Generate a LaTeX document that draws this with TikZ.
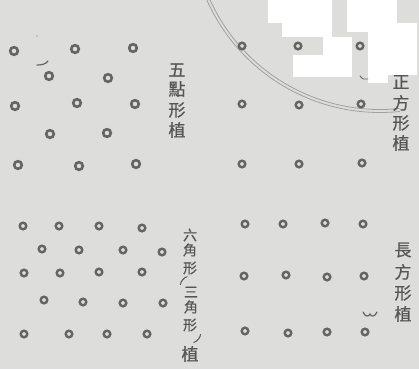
\documentclass[tikz,border=0pt]{standalone}
\usepackage{fontspec}
\newfontfamily\cjk[FakeBold=0.6]{Noto Sans CJK TC}
\definecolor{paper}{RGB}{221,221,219}
\definecolor{ink}{RGB}{100,100,98}
\definecolor{textink}{RGB}{85,85,83}
\definecolor{arcink}{RGB}{160,160,158}
\begin{document}
\begin{tikzpicture}[x=1pt,y=-1pt,
  plant/.style={circle,draw=ink,line width=2.4pt,minimum size=6.6pt,inner sep=0pt},
  bigplant/.style={plant,line width=2.6pt,minimum size=7.6pt},
  lbl/.style={text=textink,font=\cjk\fontsize{17}{17}\selectfont,inner sep=0pt},
  smalllbl/.style={text=textink,font=\cjk\fontsize{14}{14}\selectfont,inner sep=0pt},
  parlbl/.style={text=textink,font=\cjk\fontsize{11}{11}\selectfont,inner sep=0pt},
  stray/.style={draw=ink,line width=1.2pt,line cap=round}]
\fill[paper] (0,0) rectangle (419,369);
\useasboundingbox (0,0) rectangle (419,369);
% stamp arc (double line)
\draw[arcink,line width=0.8pt] (380,-77) ++(156:186.5) arc[start angle=156,end angle=84,radius=186.5];
\draw[arcink,line width=0.8pt] (380,-77) ++(156:189.5) arc[start angle=156,end angle=84,radius=189.5];
% top-left: quincunx
\foreach \x/\y [count=\i] in {14/51,75/49,133/48,49/76,108/78,15/106,77/103,135/104,50/134,107/133,18/165,79/166,136/164}
  \node[bigplant] (q\i) at (\x,\y) {};
% top-right: square
\foreach \x/\y [count=\i] in {242/46,298/46,360/46,242/104,299/105,361/104,242/164,299/164,362/163}
  \node[plant] (s\i) at (\x,\y) {};
% bottom-left: hexagonal
\foreach \x/\y [count=\i] in {23/226,59/226,99/226,142/228,42/249,79/250,123/250,162/252,24/273,60/273,99/272,142/272,44/300,83/302,123/303,163/303,24/334,69/334,107/334,147/334}
  \node[plant] (h\i) at (\x,\y) {};
% bottom-right: rectangular
\foreach \x/\y [count=\i] in {245/224,283/224,325/223,363/224,244/276,286/275,327/277,364/276,245/331,288/333,327/332,365/332}
  \node[plant] (r\i) at (\x,\y) {};
% white patches
\fill[white] (268,0) rectangle (332,23);
\fill[white] (282,23) rectangle (332,37);
\fill[white] (323,37) rectangle (352,77);
\fill[white] (293,55) rectangle (352,77);
\fill[white] (347,0) rectangle (397,32);
\fill[white] (368,32) rectangle (388,83);
\fill[white] (388,23) rectangle (417,75);
% stray marks
\draw[stray] (37,65) .. controls (42,65) and (46,64) .. (48,61);
\draw[stray,line width=0.9pt] (360,76) .. controls (362,79) and (365,80) .. (368,79);
\draw[stray] (363,312) .. controls (365,317) and (369,317) .. (370,314) .. controls (371,317) and (375,317) .. (377,312);
\fill[ink] (37,36) circle (0.6pt);
% labels
\node[lbl] (a1) at (177,70) {五};
\node[lbl] (a2) at (177,89) {點};
\node[lbl] (a3) at (177,110) {形};
\node[lbl] (a4) at (177,130) {植};
\node[lbl] (b1) at (401,82) {正};
\node[lbl] (b2) at (401,103) {方};
\node[lbl] (b3) at (401,123) {形};
\node[lbl] (b4) at (401,143) {植};
\node[lbl] (c1) at (403,250) {長};
\node[lbl] (c2) at (403,272) {方};
\node[lbl] (c3) at (403,293) {形};
\node[lbl] (c4) at (403,314) {植};
\node[smalllbl] (d1) at (190,235) {六};
\node[smalllbl] (d2) at (190,250) {角};
\node[smalllbl] (d3) at (190,268) {形};
\node[parlbl,rotate=-40] (d4) at (183,280) {(};
\node[smalllbl] (d5) at (191,292) {三};
\node[smalllbl] (d6) at (191,307) {角};
\node[smalllbl] (d7) at (190,325) {形};
\node[parlbl,rotate=-40] (d8) at (198,339) {)};
\node[lbl] (d9) at (190,354) {植};
\end{tikzpicture}
\end{document}
